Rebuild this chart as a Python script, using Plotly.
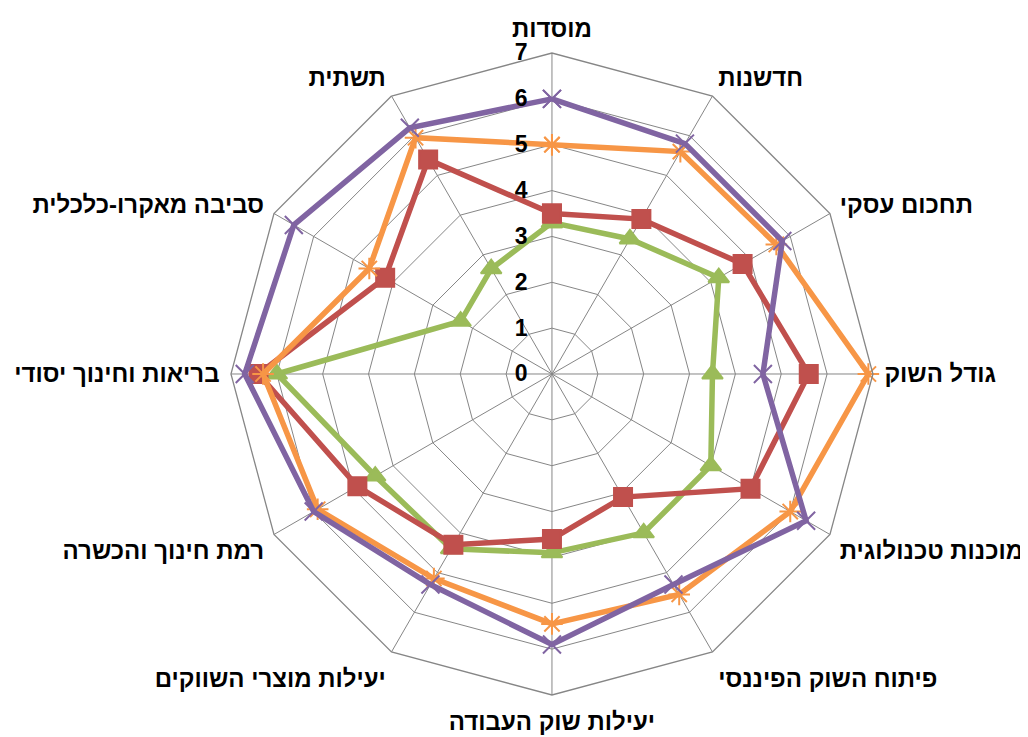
import plotly.graph_objects as go

categories = ["מוסדות", "חדשנות", "תחכום עסקי", "גודל השוק", "מוכנות טכנולוגית",
              "פיתוח השוק הפיננסי", "יעילות שוק העבודה", "יעילות מוצרי השווקים",
              "רמת חינוך והכשרה", "בריאות וחינוך יסודי", "סביבה מאקרו-כלכלית", "תשתית"]

green_vals = [3.3, 3.4, 4.2, 3.5, 4.0, 4.0, 3.9, 4.4, 4.45, 6.0, 2.3, 2.65]
red_vals = [3.5, 3.9, 4.8, 5.6, 5.0, 3.1, 3.6, 4.3, 4.9, 6.4, 4.2, 5.4]
orange_vals = [5.0, 5.6, 5.65, 6.9, 6.0, 5.55, 5.45, 5.15, 5.9, 6.3, 4.6, 5.95]
purple_vals = [6.0, 5.8, 5.8, 4.6, 6.4, 5.3, 5.9, 5.3, 6.0, 6.7, 6.5, 6.2]

radial_ticks = [0, 1, 2, 3, 4, 5, 6, 7]

series = [
    ("סדרה 1", green_vals, "#9BBB59", "triangle-up", 18),
    ("סדרה 2", red_vals, "#C0504D", "square", 18),
    ("סדרה 3", orange_vals, "#F79646", "asterisk", 18),
    ("סדרה 4", purple_vals, "#8064A2", "x-thin", 18),
]

fig = go.Figure()
for name, vals, color, sym, size in series:
    fig.add_trace(go.Scatterpolar(
        r=vals + [vals[0]],
        theta=categories + [categories[0]],
        name=name,
        mode="lines+markers",
        line=dict(color=color, width=5.5),
        marker=dict(symbol=sym, size=size, color=color,
                    line=dict(color=color, width=2)),
        showlegend=False,
    ))

fig.update_layout(
    width=1028, height=737,
    margin=dict(l=0, r=0, t=0, b=0),
    paper_bgcolor="white",
    font=dict(family="Liberation Sans, Arial, sans-serif", color="black"),
    polar=dict(
        domain=dict(x=[0.2169, 0.8414], y=[0.0678, 0.9390]),
        bgcolor="white",
        gridshape="linear",
        angularaxis=dict(
            rotation=90, direction="clockwise",
            categoryorder="array", categoryarray=categories,
            tickmode="array", tickvals=categories,
            ticktext=["<b>" + c + "</b>" for c in categories],
            showgrid=True, gridcolor="#868686", gridwidth=1.3,
            showline=True, linecolor="#868686", linewidth=1.3,
            ticks="outside", ticklen=6, tickcolor="rgba(0,0,0,0)",
            tickfont=dict(size=24, weight="bold", color="black"),
        ),
        radialaxis=dict(
            range=[0, 7], tickmode="array", tickvals=radial_ticks,
            ticktext=["<b>" + str(t) + "</b>" for t in radial_ticks],
            angle=90, side="counterclockwise", tickangle=90,
            showgrid=True, gridcolor="#868686", gridwidth=1.3,
            showline=False, ticks="outside", ticklen=16,
            tickcolor="rgba(0,0,0,0)",
            tickfont=dict(size=23, weight="bold", color="black"),
        ),
    ),
)

fig.write_html("out.html")
